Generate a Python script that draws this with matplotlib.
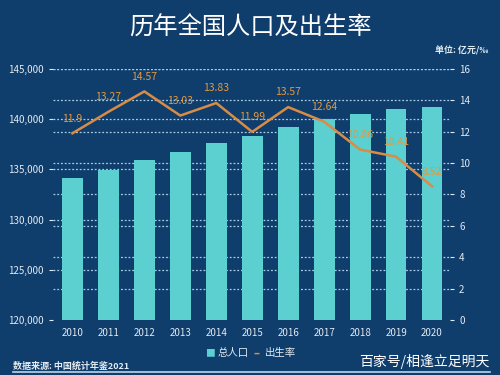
import matplotlib.pyplot as plt
import numpy as np

plt.rcParams['font.family'] = ['Noto Sans CJK SC', 'DejaVu Sans']

years = ['2010', '2011', '2012', '2013', '2014', '2015', '2016', '2017', '2018', '2019', '2020']
population = [134091, 134916, 135922, 136726, 137646, 138326, 139232, 140011, 140541, 141008, 141212]
birth_rate = [11.9, 13.27, 14.57, 13.03, 13.83, 11.99, 13.57, 12.64, 10.86, 10.41, 8.52]

bg = '#0f3d6c'
bar_color = '#5ccfd0'
line_color = '#d98c45'
label_color = '#e39a40'
text_color = '#e3ebf2'
grid_color = '#a9cbe3'

pop_min, pop_max = 120000, 145000
rate_min, rate_max = 0, 16

fig = plt.figure(figsize=(5, 3.75), dpi=100, facecolor=bg)
ax = fig.add_axes([0.106, 0.147, 0.794, 0.669])
ax.set_facecolor(bg)
ax2 = ax.twinx()

x = np.arange(len(years))

ax.bar(x, population, width=0.58, color=bar_color, zorder=3)
ax.set_ylim(pop_min, pop_max)
ax.set_yticks(np.arange(pop_min, pop_max + 1, 5000))
ax.set_yticklabels(['{:,}'.format(v) for v in range(pop_min, pop_max + 1, 5000)])
ax.set_xlim(-0.54, 10.5)
ax.set_xticks(x)
ax.set_xticklabels(years)

# gridlines for both axes, drawn behind the bars
dots = (0, (1.5, 1.5))
for v in range(pop_min, pop_max + 1, 5000):
    if v > pop_min:
        ax.axhline(v, color=grid_color, linestyle=dots, linewidth=0.9, zorder=1)
for r in range(rate_min + 2, rate_max + 1, 2):
    yv = pop_min + (r - rate_min) / (rate_max - rate_min) * (pop_max - pop_min)
    ax.axhline(yv, color=grid_color, linestyle=dots, linewidth=0.9, zorder=1)

ax2.plot(x, birth_rate, color=line_color, linewidth=1.8, zorder=4)
ax2.set_ylim(rate_min, rate_max)
ax2.set_yticks(np.arange(rate_min, rate_max + 1, 2))
ax2.set_zorder(ax.get_zorder() + 1)
ax2.patch.set_visible(False)
for xi, v in zip(x, birth_rate):
    ax2.annotate('{:g}'.format(v), (xi, v), xytext=(0, 7), textcoords='offset points',
                 ha='center', va='bottom', color=label_color, fontsize=7.5)

for a in (ax, ax2):
    for s in a.spines.values():
        s.set_visible(False)
    a.tick_params(colors=text_color, labelsize=7, length=3, width=0.8)
    a.tick_params(axis='x', length=0, pad=6)

fig.text(0.5, 0.925, '历年全国人口及出生率', color='white', fontsize=17.5,
         ha='center', va='center')
fig.text(0.976, 0.865, '单位: 亿元/‰', color=text_color, fontsize=6.5,
         ha='right', va='center', fontweight='bold')

# legend
fig.text(0.41, 0.058, '■', color=bar_color, fontsize=7, ha='left', va='center')
fig.text(0.435, 0.058, '总人口', color=text_color, fontsize=7.5, ha='left', va='center')
fig.text(0.508, 0.058, '–', color=line_color, fontsize=8, ha='left', va='center', fontweight='bold')
fig.text(0.53, 0.058, '出生率', color=text_color, fontsize=7.5, ha='left', va='center')

fig.text(0.026, 0.024, '数据来源: 中国统计年鉴2021', color=text_color, fontsize=6.5,
         ha='left', va='center', fontweight='bold')
fig.text(0.98, 0.035, '百家号/相逢立足明天', color='white', fontsize=10,
         ha='right', va='center')

fig.add_artist(plt.Line2D([0.026, 0.98], [0.008, 0.008], color='#bcd7ea', linewidth=1.2))

fig.savefig('out.png', dpi=100, facecolor=bg)
